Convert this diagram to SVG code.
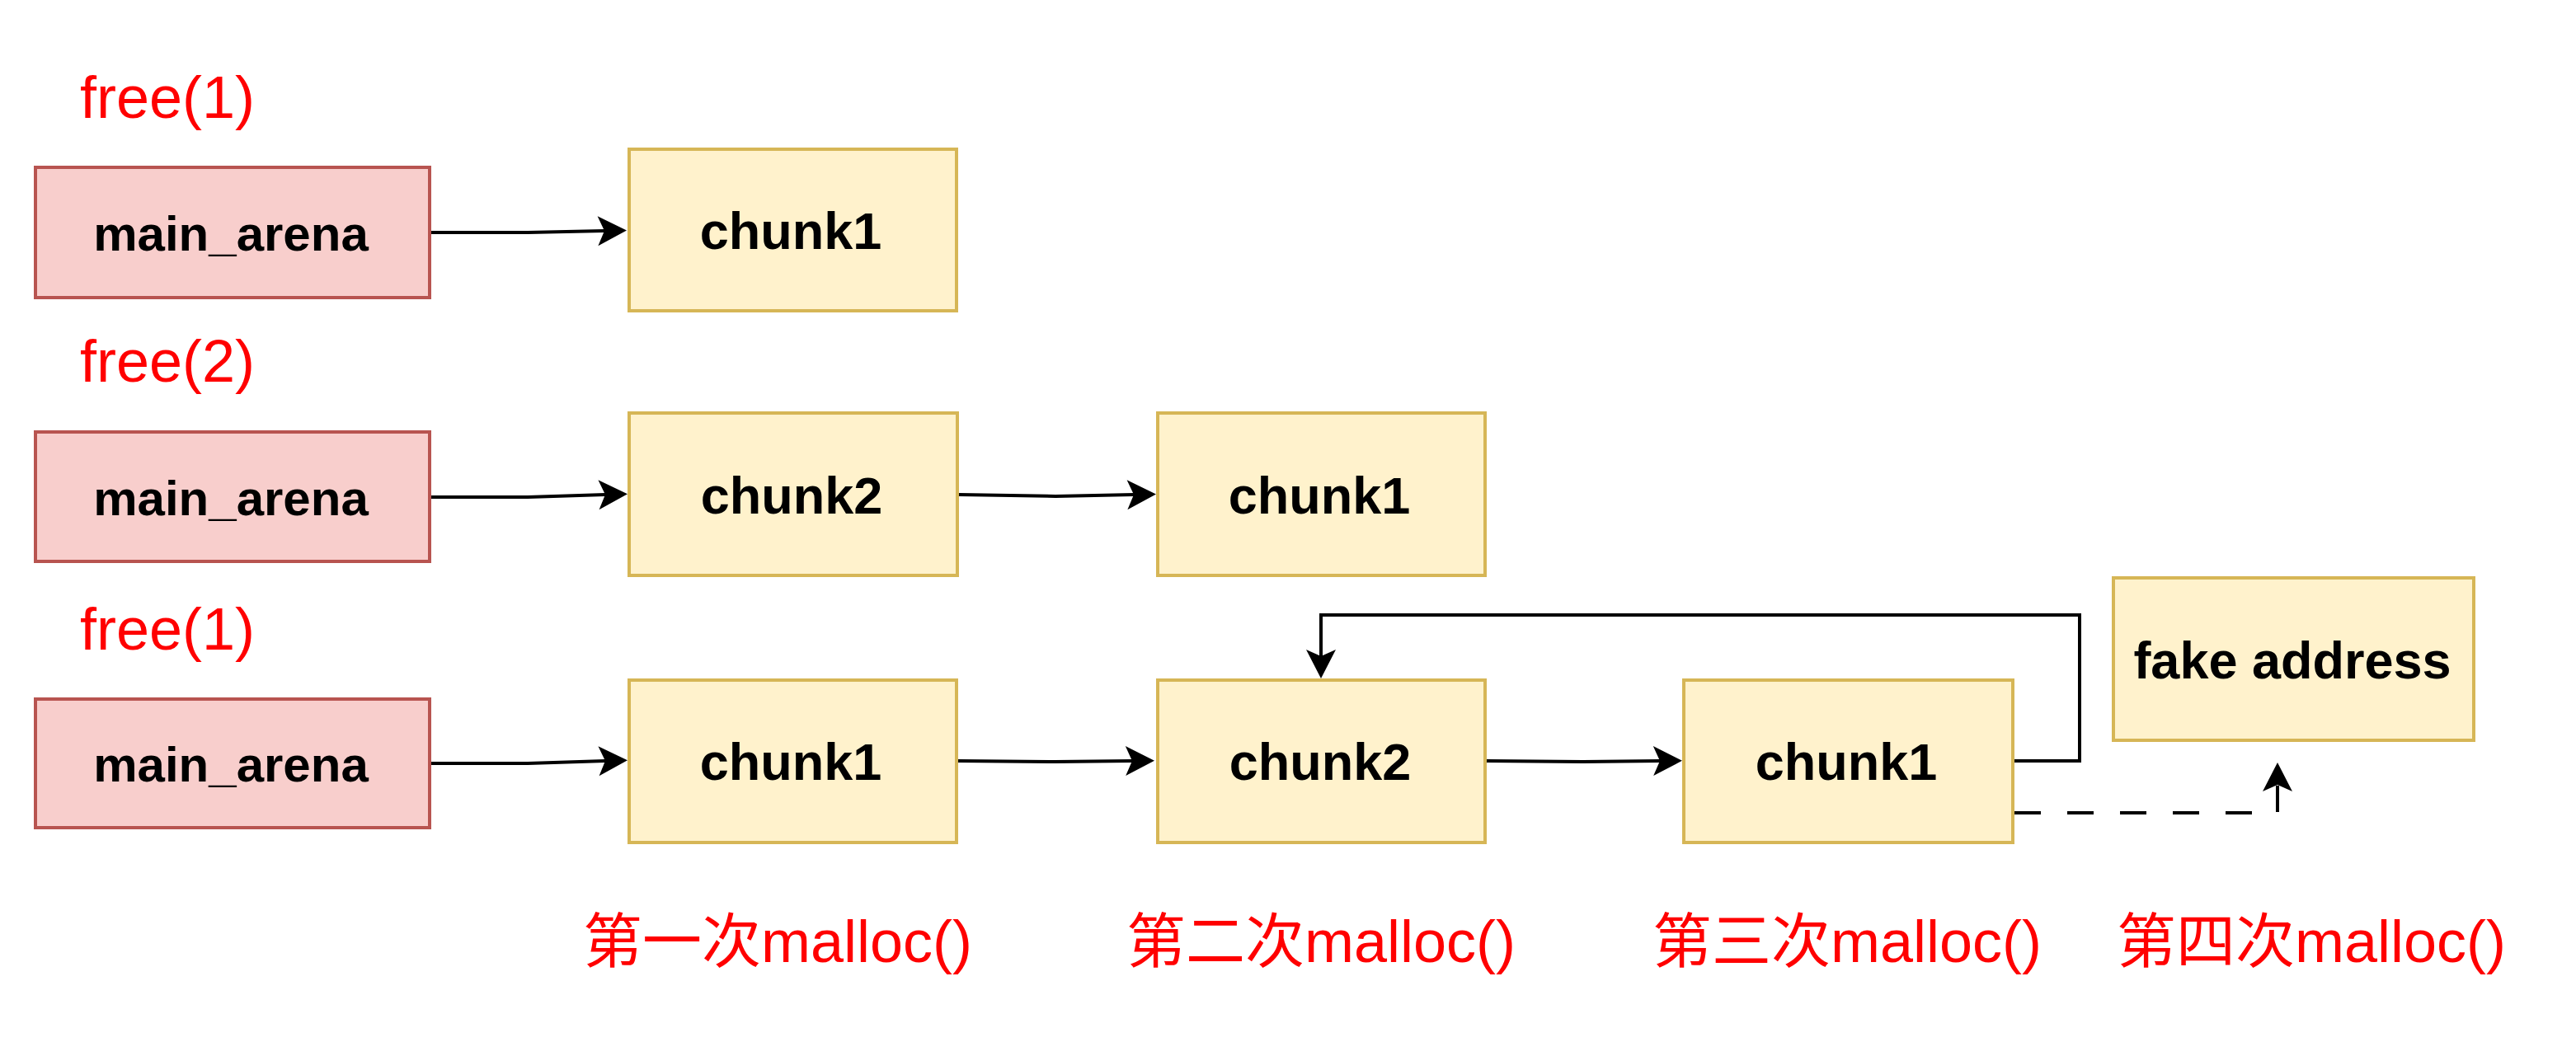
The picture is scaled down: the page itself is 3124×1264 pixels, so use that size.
<svg xmlns="http://www.w3.org/2000/svg" width="3124" height="1264" viewBox="0 0 3124 1264">
<style>
.arena{fill:#f8cecc;stroke:#b85450;stroke-width:4}
.chunk{fill:#fff2cc;stroke:#d6b656;stroke-width:4}
.nt{font-family:"Liberation Sans",Arial,sans-serif;font-weight:bold;font-size:63px;fill:#000;text-anchor:middle}
.na{font-size:60px}
.red{font-family:"Liberation Sans","Noto Sans CJK SC",sans-serif;font-size:72px;fill:#ff0000}
.edge{fill:none;stroke:#000;stroke-width:4}
.dash{stroke-dasharray:32 32}
</style>
<defs>
<marker id="arr" viewBox="-9 -19 37 38" refX="0" refY="0" markerWidth="37" markerHeight="38" markerUnits="userSpaceOnUse" orient="auto">
<path d="M27,0 L-8,-18 L0,0 L-8,18 Z" fill="#000"/>
</marker>
</defs>
<rect width="3124" height="1264" fill="#fff"/>
<g id="labels">
<text class="red" x="97" y="143">free(1)</text>
<text class="red" x="97" y="463">free(2)</text>
<text class="red" x="97" y="788">free(1)</text>
<text class="red" x="707" y="1167">第一次malloc()</text>
<text class="red" x="1366" y="1167">第二次malloc()</text>
<text class="red" x="2004" y="1167">第三次malloc()</text>
<text class="red" x="2567" y="1167">第四次malloc()</text>
</g>
<g id="r1-arena"><rect class="arena" x="43" y="203" width="478" height="158"/><text class="nt na" x="280" y="304">main_arena</text></g>
<g id="r1-chunk1"><rect class="chunk" x="763" y="181" width="397" height="196"/><text class="nt" x="959" y="302">chunk1</text></g>
<g id="r2-arena"><rect class="arena" x="43" y="524" width="478" height="157"/><text class="nt na" x="280" y="625">main_arena</text></g>
<g id="r2-chunk2"><rect class="chunk" x="763" y="501" width="398" height="197"/><text class="nt" x="960" y="623">chunk2</text></g>
<g id="r2-chunk1"><rect class="chunk" x="1404" y="501" width="397" height="197"/><text class="nt" x="1600" y="623">chunk1</text></g>
<g id="r3-arena"><rect class="arena" x="43" y="848" width="478" height="156"/><text class="nt na" x="280" y="948">main_arena</text></g>
<g id="r3-chunk1"><rect class="chunk" x="763" y="825" width="397" height="197"/><text class="nt" x="959" y="946">chunk1</text></g>
<g id="r3-chunk2"><rect class="chunk" x="1404" y="825" width="397" height="197"/><text class="nt" x="1601" y="946">chunk2</text></g>
<g id="r3-chunk1b"><rect class="chunk" x="2042" y="825" width="399" height="197"/><text class="nt" x="2239" y="946">chunk1</text></g>
<g id="fake"><rect class="chunk" x="2563" y="701" width="437" height="197"/><text class="nt" x="2780" y="823">fake address</text></g>
<g id="connectors">
<path class="edge" d="M523,282 L640,282 L733,280" marker-end="url(#arr)"/>
<path class="edge" d="M523,603 L640,603 L734,600" marker-end="url(#arr)"/>
<path class="edge" d="M1163,600 L1280,602 L1375,600" marker-end="url(#arr)"/>
<path class="edge" d="M523,926 L640,926 L734,923" marker-end="url(#arr)"/>
<path class="edge" d="M1162,923 L1280,924 L1373,923" marker-end="url(#arr)"/>
<path class="edge" d="M1803,923 L1920,924 L2013,923" marker-end="url(#arr)"/>
<path class="edge" d="M2443,923 H2522 V746 H1602 V796" marker-end="url(#arr)"/>
<path class="edge dash" d="M2443,986 H2762 V952" marker-end="url(#arr)"/>
</g>
</svg>
